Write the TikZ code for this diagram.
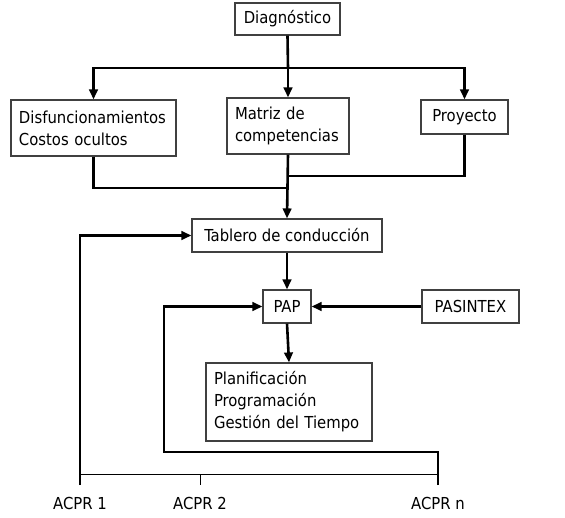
\documentclass[tikz,border=0pt]{standalone}
\usepackage{fontspec}
\setmainfont{DejaVu Sans Condensed}
\usetikzlibrary{arrows.meta, positioning}

\begin{document}
\begin{tikzpicture}[x=1pt, y=-1pt,
    box/.style={draw=black!75, line width=1.1pt, inner sep=0pt,
                font=\fontsize{16.5}{22}\selectfont},
    padbox/.style={box, inner xsep=8pt, align=left},
    flow/.style={line width=2.6pt, -{Triangle[length=10pt,width=8.5pt]}},
    link/.style={line width=2.6pt},
    axis/.style={line width=1pt}]
  \useasboundingbox (0,0) rectangle (565,518);

  % boxes
  \node[box, minimum width=105, minimum height=32] (diag) at (287.5,19) {Diagnóstico};
  \node[padbox, text width=149, minimum height=56] (disf) at (93.5,128) {Disfuncionamientos\\Costos ocultos};
  \node[padbox, text width=106, minimum height=56] (matriz) at (288,126) {Matriz de\\competencias};
  \node[box, minimum width=87, minimum height=34] (proy) at (464.5,117) {Proyecto};
  \node[box, minimum width=190, minimum height=33] (tablero) at (287,235.5) {Tablero de conducción};
  \node[box, minimum width=48, minimum height=33] (pap) at (287,306.5) {PAP};
  \node[box, minimum width=97, minimum height=33] (pasintex) at (470.5,306.5) {PASINTEX};
  \node[padbox, text width=150, minimum height=78] (plan) at (289,402) {Planificación\\Programación\\Gestión del Tiempo};

  % top fan-out and merge
  \coordinate (split) at (288,68);
  \coordinate (joinL) at (288,188);
  \coordinate (joinR) at (288,176);
  \draw[link] (diag.south) -- (split);
  \draw[flow] (split) -| (disf.north);
  \draw[flow] (split) -- (matriz.north);
  \draw[flow] (split) -| (proy.north);
  \draw[link] (disf.south) |- (joinL);
  \draw[link] (proy.south) |- (joinR);
  \draw[flow] (matriz.south) -- (tablero.north);
  \draw[flow] (tablero.south) -- (pap.north);
  \draw[flow] (pasintex.west) -- (pap.east);
  \draw[flow] (pap.south) -- (plan.north);

  % time axis
  \foreach \n/\xx in {1/80, 2/200, n/438} {
    \coordinate (a\n) at (\xx,474);
    \coordinate (t\n) at (\xx,485);
    \node[font=\fontsize{16.5}{22}\selectfont] (acpr\n) at (\xx,503) {ACPR \n};
  }
  \draw[axis] (a1) -- (an);
  \draw[axis] (a2) -- (t2);

  % feedback loops
  \coordinate (loop) at (164,452);
  \draw[flow] (t1) |- (tablero.west);
  \draw[flow] (tn) |- (loop) |- (pap.west);
\end{tikzpicture}
\end{document}
